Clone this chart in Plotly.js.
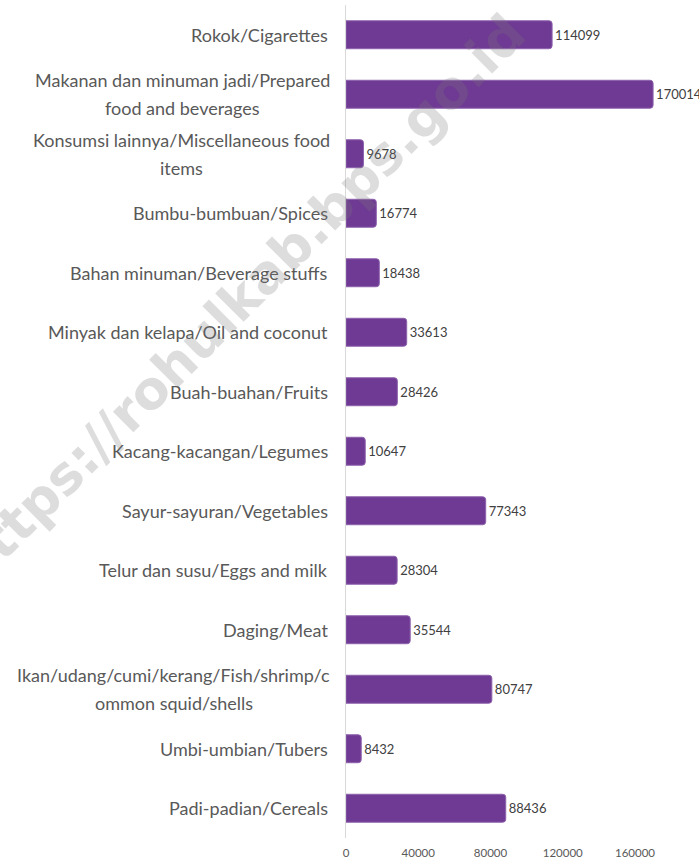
<!DOCTYPE html>
<html>
<head>
<meta charset="utf-8">
<script src="https://cdn.plot.ly/plotly-3.0.1.min.js"></script>
<style>html,body{margin:0;padding:0;background:#fff;}#chart{width:699px;height:867px;}</style>
</head>
<body>
<div id="chart"></div>
<script>
const categories = [
  "Rokok/Cigarettes",
  "Makanan dan minuman jadi/Prepared<br>food and beverages",
  "Konsumsi lainnya/Miscellaneous food<br>items",
  "Bumbu-bumbuan/Spices",
  "Bahan minuman/Beverage stuffs",
  "Minyak dan kelapa/Oil and coconut",
  "Buah-buahan/Fruits",
  "Kacang-kacangan/Legumes",
  "Sayur-sayuran/Vegetables",
  "Telur dan susu/Eggs and milk",
  "Daging/Meat",
  "Ikan/udang/cumi/kerang/Fish/shrimp/c<br>ommon squid/shells",
  "Umbi-umbian/Tubers",
  "Padi-padian/Cereals"
];
const values = [114099, 170014, 9678, 16774, 18438, 33613, 28426, 10647, 77343, 28304, 35544, 80747, 8432, 88436];
const tickValues = [0, 40000, 80000, 120000, 160000];
const tickLabels = ["0", "40000", "80000", "120000", "160000"];
const watermark = "https://rohulkab.bps.go.id";

const FONT = "Lato, 'Open Sans', sans-serif";
const LABEL_SIZE = 18;

const cv = document.createElement("canvas").getContext("2d");
cv.font = LABEL_SIZE + "px Lato";

const annotations = [];
categories.forEach((c) => {
  const lines = c.split("<br>");
  const n = lines.length;
  const maxW = Math.max(...lines.map(l => cv.measureText(l).width));
  lines.forEach((ln, i) => {
    annotations.push({
      x: 0, xref: "x", y: c, yref: "y",
      text: ln, showarrow: false,
      xanchor: n > 1 ? "center" : "right", yanchor: "middle",
      xshift: n > 1 ? -16 - maxW / 2 : -16,
      yshift: (n - 1) * 14 - i * 28,
      font: {family: FONT, size: LABEL_SIZE, color: "#595959"}
    });
  });
});
annotations.push({
  x: -0.31, y: 0.645, xref: "paper", yref: "paper",
  text: "<b>" + watermark + "</b>", showarrow: false,
  textangle: -45, xanchor: "center", yanchor: "middle",
  font: {family: "'DejaVu Sans', sans-serif", size: 53, color: "rgba(120,120,120,0.25)"}
});

const trace = {
  type: "bar", orientation: "h",
  x: values, y: categories,
  text: values.map(String), textposition: "outside",
  constraintext: "none", cliponaxis: false,
  textfont: {family: FONT, size: 13, color: "#404040"},
  marker: {color: "#6f3a93", line: {color: "#8d62ad", width: 1}, cornerradius: 3},
  hoverinfo: "none"
};

const layout = {
  width: 699, height: 867,
  margin: {l: 346, r: 8, t: 5, b: 29, pad: 0},
  paper_bgcolor: "#fff", plot_bgcolor: "#fff",
  bargap: 0.53,
  showlegend: false,
  xaxis: {
    range: [0, 191000], tickvals: tickValues, ticktext: tickLabels,
    showgrid: false, zeroline: false, showline: false, ticks: "",
    tickfont: {family: FONT, size: 11.5, color: "#595959"},
    ticklabelstandoff: 6, fixedrange: true
  },
  yaxis: {
    autorange: "reversed", showticklabels: false, ticks: "",
    showgrid: false, zeroline: false,
    showline: true, linecolor: "#d9d9d9", linewidth: 1, fixedrange: true
  },
  annotations: annotations
};

Plotly.newPlot("chart", [trace], layout, {displayModeBar: false, staticPlot: true});
</script>
</body>
</html>
